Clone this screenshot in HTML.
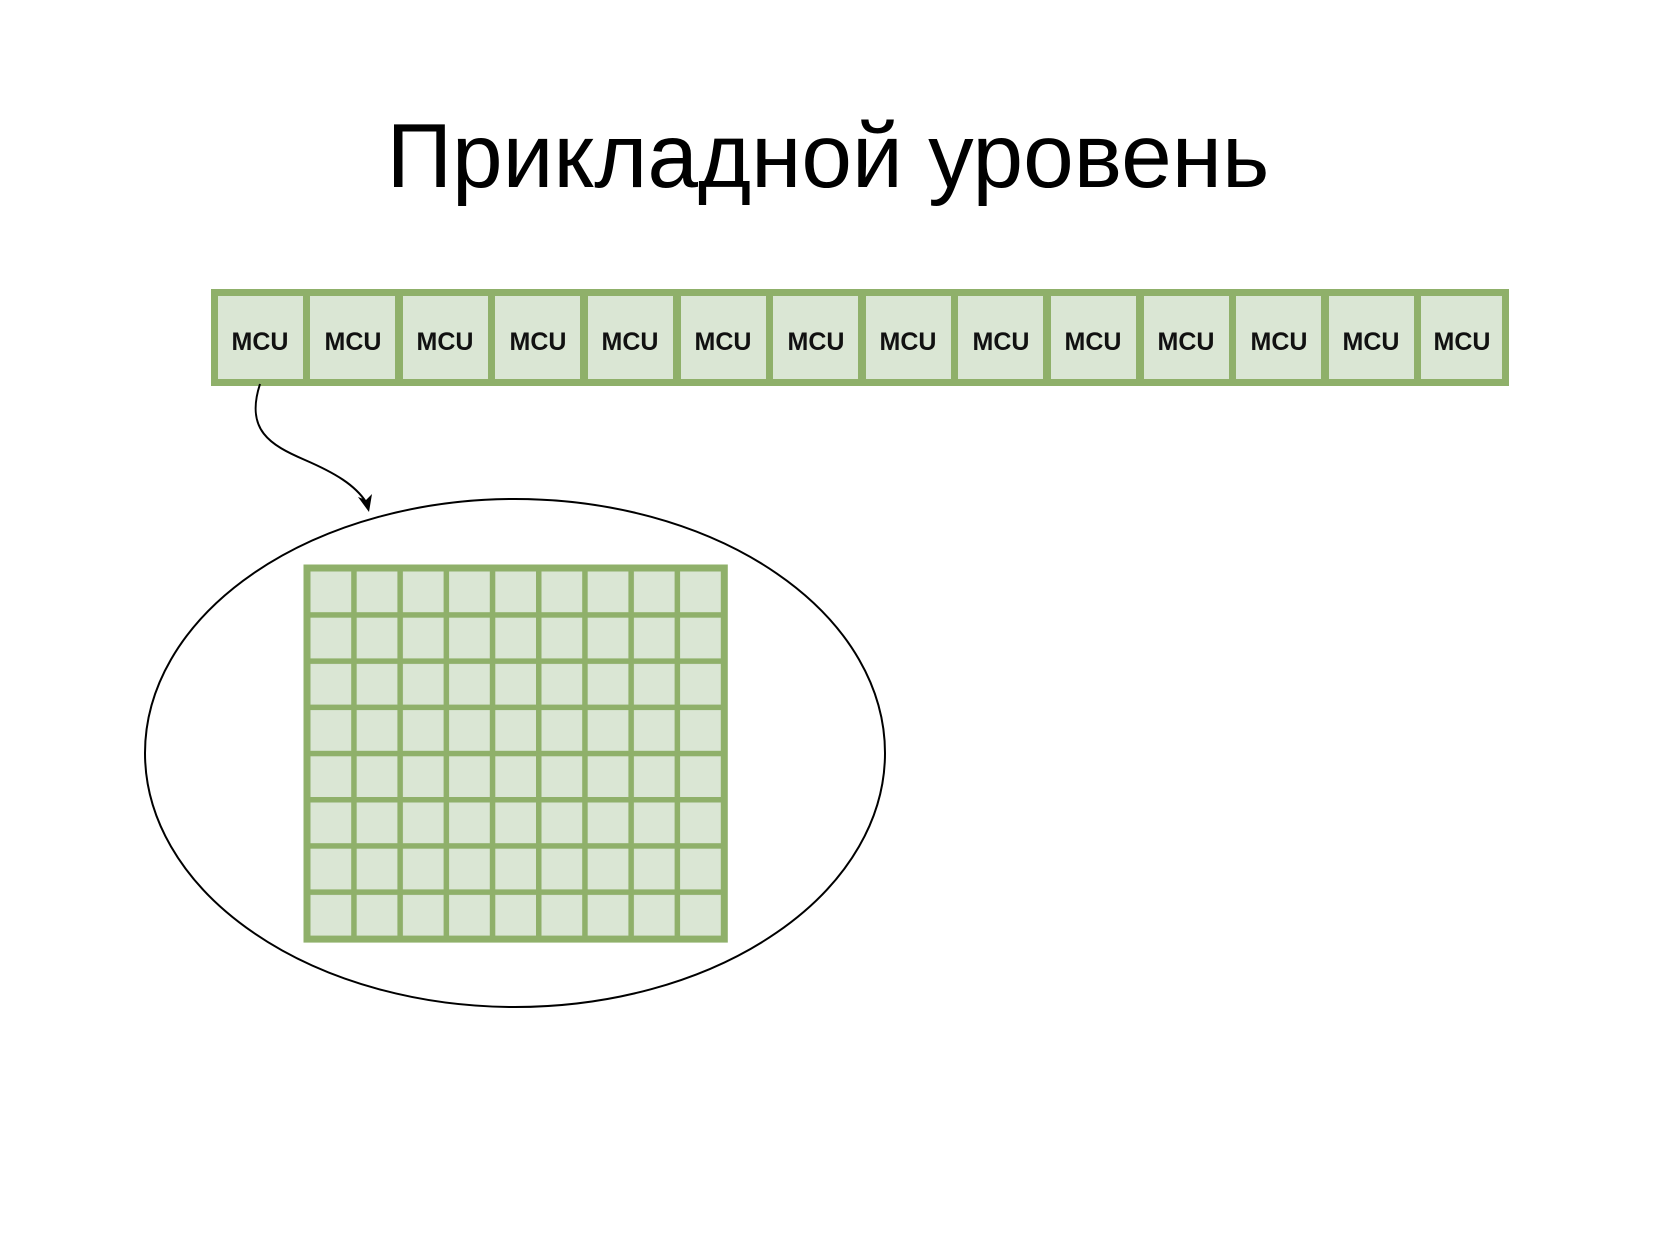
<!DOCTYPE html>
<html><head><meta charset="utf-8"><style>
html,body{margin:0;padding:0;background:#fff;}
</style></head><body>
<svg width="1654" height="1239" xmlns="http://www.w3.org/2000/svg" style="display:block">
<defs>
<pattern id="cell" x="305" y="566" width="46.2" height="46.2" patternUnits="userSpaceOnUse">
<rect width="46.2" height="46.2" fill="#8fb06a"/>
<rect x="5.5" y="5.5" width="40.7" height="40.7" fill="#dae6d4"/>
</pattern>
</defs>
<rect width="1654" height="1239" fill="#fff"/>
<text x="828" y="187" text-anchor="middle" font-family="Liberation Sans, sans-serif" font-size="91" fill="#000">Прикладной уровень</text>
<rect x="211" y="289" width="1298" height="97" fill="#8fb06a"/>
<g fill="#dae6d4">
<rect x="218" y="296" width="85" height="83"/><rect x="310" y="296" width="85" height="83"/><rect x="403" y="296" width="85" height="83"/><rect x="495" y="296" width="85" height="83"/><rect x="588" y="296" width="85" height="83"/><rect x="681" y="296" width="85" height="83"/><rect x="773" y="296" width="85" height="83"/><rect x="866" y="296" width="85" height="83"/><rect x="958" y="296" width="85" height="83"/><rect x="1051" y="296" width="85" height="83"/><rect x="1144" y="296" width="85" height="83"/><rect x="1236" y="296" width="85" height="83"/><rect x="1329" y="296" width="85" height="83"/><rect x="1421" y="296" width="81" height="83"/>
</g>
<g font-family="Liberation Sans, sans-serif" font-weight="bold" font-size="25" fill="#111" text-anchor="middle">
<text x="260" y="350">MCU</text><text x="353" y="350">MCU</text><text x="445" y="350">MCU</text><text x="538" y="350">MCU</text><text x="630" y="350">MCU</text><text x="723" y="350">MCU</text><text x="816" y="350">MCU</text><text x="908" y="350">MCU</text><text x="1001" y="350">MCU</text><text x="1093" y="350">MCU</text><text x="1186" y="350">MCU</text><text x="1279" y="350">MCU</text><text x="1371" y="350">MCU</text><text x="1462" y="350">MCU</text>
</g>
<path d="M260 384 C 245 430, 270 445, 305 460 C 335 473, 355 485, 366 502" fill="none" stroke="#000" stroke-width="2"/>
<path d="M358 497 L 369 512 L 372 494 L 366 500 Z" fill="#000"/>
<ellipse cx="515" cy="753" rx="370" ry="254" fill="none" stroke="#000" stroke-width="2"/>
<rect x="305" y="566" width="421.3" height="375.1" fill="url(#cell)"/>
<rect x="305" y="566" width="421.3" height="375.1" fill="none" stroke="#8fb06a" stroke-width="3" transform="translate(0,0)"/>
</svg>
</body></html>
